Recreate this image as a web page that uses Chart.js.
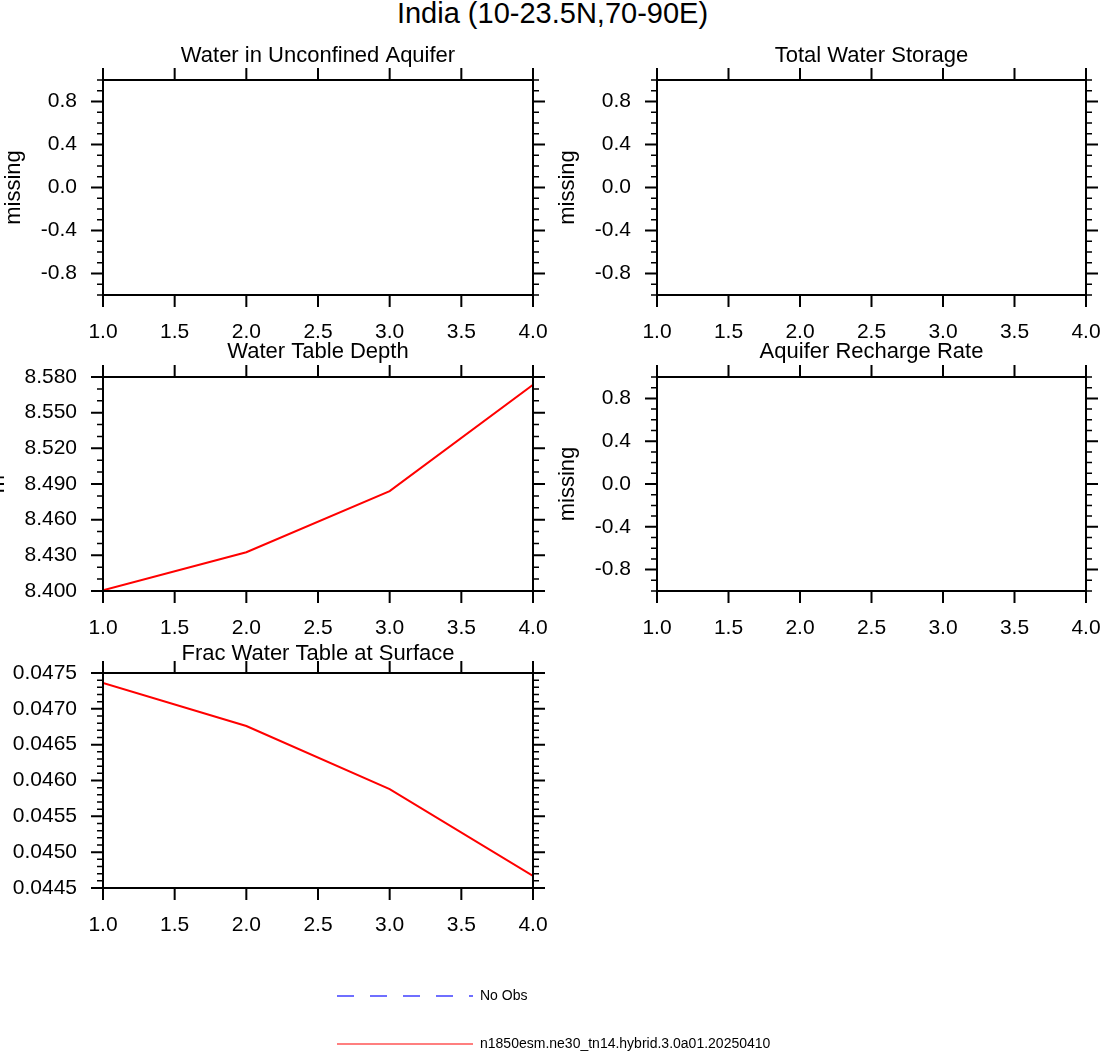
<!DOCTYPE html>
<html>
<head>
<meta charset="utf-8">
<title>India (10-23.5N,70-90E)</title>
<script src="https://cdn.jsdelivr.net/npm/chart.js@4.4.1/dist/chart.umd.min.js"></script>
<style>
html,body{margin:0;padding:0;background:#fff;overflow:hidden;}
body{width:1101px;height:1053px;position:relative;}
canvas{position:absolute;}
#mainTitle{
    position:absolute;left:0;top:-1px;width:1105px;
    line-height:29px;text-align:center;white-space:nowrap;
    font-family:"Liberation Sans",Arial,sans-serif;font-size:29px;color:#000;
}
</style>
</head>
<body>
<div id="mainTitle">India (10-23.5N,70-90E)</div>
<canvas id="unconfinedChart"></canvas>
<canvas id="storageChart"></canvas>
<canvas id="depthChart"></canvas>
<canvas id="rechargeChart"></canvas>
<canvas id="fracChart"></canvas>
<canvas id="legendChart"></canvas>
<script>
const years = [1, 2, 3, 4];
const xTicks = [1.0, 1.5, 2.0, 2.5, 3.0, 3.5, 4.0];

const missingTicks = [-0.8, -0.4, 0.0, 0.4, 0.8];
const depthTicks = [8.400, 8.430, 8.460, 8.490, 8.520, 8.550, 8.580];
const fracTicks = [0.0445, 0.0450, 0.0455, 0.0460, 0.0465, 0.0470, 0.0475];

const unconfinedWater = [null, null, null, null];
const totalStorage = [null, null, null, null];
const rechargeRate = [null, null, null, null];
const waterTableDepth = [8.4006, 8.4326, 8.4840, 8.5735];
const fracWaterTable = [0.04736, 0.04676, 0.04588, 0.04467];

const modelName = "n1850esm.ne30_tn14.hybrid.3.0a01.20250410";
const obsName = "No Obs";

Chart.defaults.font.family = '"Liberation Sans", Arial, sans-serif';
Chart.defaults.color = "#000";

const AXIS_ROOM = 125;
const TITLE_SIZE = 22;
const TITLE_LINE = TITLE_SIZE * 1.2;

function makeFrame(minorStep){

    return {
        id:"nclFrame",
        afterDraw(chart){

            const {ctx, chartArea:a, scales:{x, y}} = chart;

            ctx.save();
            ctx.strokeStyle = "#000";
            ctx.lineWidth = 2;
            ctx.lineCap = "butt";

            ctx.strokeRect(a.left, a.top, a.right - a.left, a.bottom - a.top);

            ctx.beginPath();

            x.ticks.forEach(t=>{
                const px = x.getPixelForValue(t.value);
                ctx.moveTo(px, a.top);
                ctx.lineTo(px, a.top - 12);
                ctx.moveTo(px, a.bottom);
                ctx.lineTo(px, a.bottom + 12);
            });

            y.ticks.forEach(t=>{
                const py = y.getPixelForValue(t.value);
                ctx.moveTo(a.left, py);
                ctx.lineTo(a.left - 12, py);
                ctx.moveTo(a.right, py);
                ctx.lineTo(a.right + 12, py);
            });

            ctx.stroke();

            ctx.lineWidth = 1.5;
            ctx.beginPath();

            const count = Math.round((y.max - y.min) / minorStep);

            for(let i = 0; i <= count; i++){

                const v = y.min + i * minorStep;

                const isMajor = y.ticks.some(t=>
                    Math.abs(t.value - v) < minorStep / 10
                );

                if(isMajor) continue;

                const py = y.getPixelForValue(v);
                ctx.moveTo(a.left, py);
                ctx.lineTo(a.left - 6, py);
                ctx.moveTo(a.right, py);
                ctx.lineTo(a.right + 6, py);
            }

            ctx.stroke();
            ctx.restore();
        }
    };
}

function createPanel(id, spec){

    const canvas = document.getElementById(id);

    const top = Math.floor(spec.titleMid - TITLE_LINE / 2);
    const titlePadTop = spec.titleMid - TITLE_LINE / 2 - top;
    const titlePadBottom = spec.top - spec.titleMid - TITLE_LINE / 2;

    const width = (spec.right - spec.left) + AXIS_ROOM * 2;
    const height = spec.bottom - top + 60;

    canvas.width = width;
    canvas.height = height;
    canvas.style.width = width + "px";
    canvas.style.height = height + "px";
    canvas.style.left = (spec.left - AXIS_ROOM) + "px";
    canvas.style.top = top + "px";

    return new Chart(canvas, {
        type:"line",
        data:{
            datasets:[{
                label:modelName,
                data:years.map((yr, i)=>({x:yr, y:spec.values[i]})),
                borderColor:"#ff0000",
                borderWidth:2,
                pointRadius:0,
                tension:0,
                fill:false
            }]
        },
        options:{
            responsive:false,
            animation:false,
            devicePixelRatio:1,
            layout:{padding:0},
            plugins:{
                legend:{display:false},
                tooltip:{enabled:false},
                title:{
                    display:true,
                    text:spec.title,
                    color:"#000",
                    font:{size:TITLE_SIZE, weight:"normal"},
                    padding:{top:titlePadTop, bottom:titlePadBottom}
                }
            },
            scales:{
                x:{
                    type:"linear",
                    min:1,
                    max:4,
                    grid:{display:false, drawTicks:true, tickLength:24.4},
                    border:{display:false},
                    afterBuildTicks:s=>{
                        s.ticks = xTicks.map(v=>({value:v}));
                    },
                    afterFit:s=>{
                        s.height = 60;
                    },
                    ticks:{
                        padding:0,
                        font:{size:21},
                        color:"#000",
                        maxRotation:0,
                        autoSkip:false,
                        callback:v=>Number(v).toFixed(1)
                    }
                },
                y:{
                    type:"linear",
                    position:"left",
                    min:spec.min,
                    max:spec.max,
                    grid:{display:false, drawTicks:true, tickLength:26},
                    border:{display:false},
                    afterBuildTicks:s=>{
                        s.ticks = spec.ticks.map(v=>({value:v}));
                    },
                    afterFit:s=>{
                        s.width = AXIS_ROOM;
                    },
                    ticks:{
                        padding:0,
                        font:{size:21},
                        color:"#000",
                        autoSkip:false,
                        callback:v=>Number(v).toFixed(spec.decimals)
                    },
                    title:{
                        display:!!spec.yTitle,
                        text:spec.yTitle,
                        color:"#000",
                        font:{size:TITLE_SIZE},
                        padding:{top:spec.yTitlePad, bottom:0}
                    }
                },
                yRight:{
                    type:"linear",
                    position:"right",
                    grid:{display:false, drawTicks:false},
                    border:{display:false},
                    ticks:{display:false, padding:0},
                    afterFit:s=>{
                        s.width = AXIS_ROOM;
                    }
                }
            }
        },
        plugins:[makeFrame(spec.minorStep)]
    });
}

function createLegend(){

    const canvas = document.getElementById("legendChart");

    canvas.width = 600;
    canvas.height = 150;
    canvas.style.width = "600px";
    canvas.style.height = "150px";
    canvas.style.left = "303px";
    canvas.style.top = "955px";

    return new Chart(canvas, {
        type:"line",
        data:{
            datasets:[
            {
                label:obsName,
                data:[],
                borderColor:"#4040ff",
                borderDash:[17, 16],
                borderWidth:1.5
            },
            {
                label:modelName,
                data:[],
                borderColor:"#ff0000",
                borderWidth:1.2
            }
            ]
        },
        options:{
            responsive:false,
            animation:false,
            devicePixelRatio:1,
            layout:{padding:0},
            scales:{
                x:{display:false},
                y:{display:false}
            },
            plugins:{
                tooltip:{enabled:false},
                legend:{
                    position:"left",
                    align:"start",
                    maxWidth:600,
                    labels:{
                        usePointStyle:true,
                        pointStyle:"line",
                        pointStyleWidth:136,
                        padding:34,
                        color:"#000",
                        font:{size:14},
                        generateLabels:chart=>{

                            const items =
                            Chart.defaults.plugins.legend.labels.generateLabels(chart);

                            return items.map(item=>{
                                const ds = chart.data.datasets[item.datasetIndex];
                                item.lineDash = ds.borderDash || [];
                                item.lineWidth = ds.borderWidth;
                                item.strokeStyle = ds.borderColor;
                                return item;
                            });
                        }
                    }
                }
            }
        }
    });
}

createPanel("unconfinedChart", {
    left:103, top:80, right:533, bottom:295, titleMid:55.6,
    title:"Water in Unconfined Aquifer",
    yTitle:"missing", yTitlePad:22.3,
    values:unconfinedWater,
    ticks:missingTicks, min:-1, max:1, minorStep:0.1, decimals:1
});

createPanel("storageChart", {
    left:657, top:80, right:1086, bottom:295, titleMid:55.6,
    title:"Total Water Storage",
    yTitle:"missing", yTitlePad:22.3,
    values:totalStorage,
    ticks:missingTicks, min:-1, max:1, minorStep:0.1, decimals:1
});

createPanel("depthChart", {
    left:103, top:377, right:533, bottom:591, titleMid:352.3,
    title:"Water Table Depth",
    yTitle:"m", yTitlePad:7.2,
    values:waterTableDepth,
    ticks:depthTicks, min:8.40, max:8.58, minorStep:0.01, decimals:3
});

createPanel("rechargeChart", {
    left:657, top:377, right:1086, bottom:591, titleMid:352.3,
    title:"Aquifer Recharge Rate",
    yTitle:"missing", yTitlePad:22.3,
    values:rechargeRate,
    ticks:missingTicks, min:-1, max:1, minorStep:0.1, decimals:1
});

createPanel("fracChart", {
    left:103, top:673, right:533, bottom:888, titleMid:654,
    title:"Frac Water Table at Surface",
    yTitle:"", yTitlePad:0,
    values:fracWaterTable,
    ticks:fracTicks, min:0.0445, max:0.0475, minorStep:0.0001, decimals:4
});

createLegend();
</script>
</body>
</html>
